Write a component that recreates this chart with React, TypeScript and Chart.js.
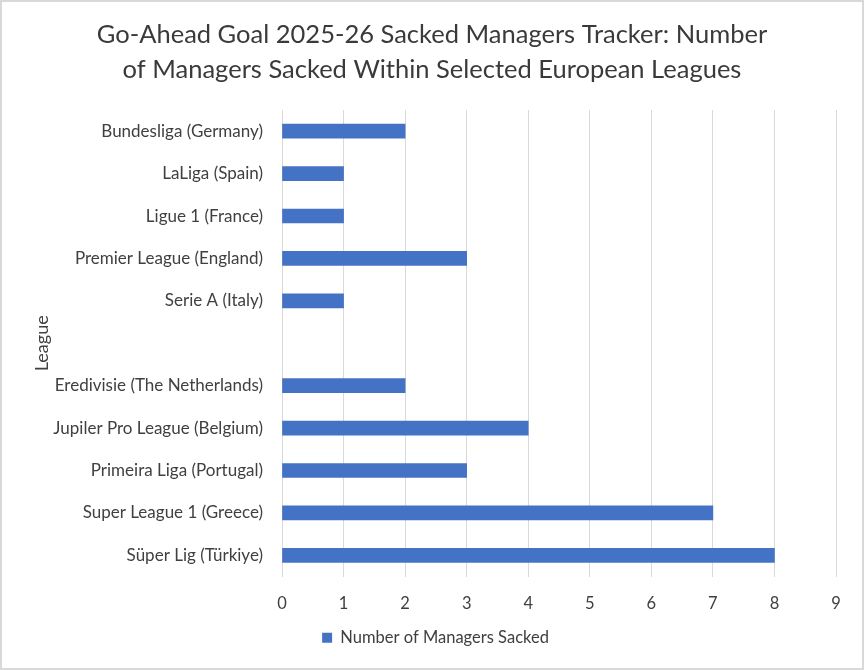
import { useRef, useEffect } from 'react'
import { Chart, registerables } from 'chart.js'

Chart.register(...registerables)

const leagues = [
  'Bundesliga (Germany)',
  'LaLiga (Spain)',
  'Ligue 1 (France)',
  'Premier League (England)',
  'Serie A (Italy)',
  '',
  'Eredivisie (The Netherlands)',
  'Jupiler Pro League (Belgium)',
  'Primeira Liga (Portugal)',
  'Super League 1 (Greece)',
  'Süper Lig (Türkiye)',
]
const sacked = [2, 1, 1, 3, 1, null, 2, 4, 3, 7, 8]
const titleLines = [
  'Go-Ahead Goal 2025-26 Sacked Managers Tracker: Number',
  'of Managers Sacked Within Selected European Leagues',
]
const seriesName = 'Number of Managers Sacked'
const xMax = 9

const FONT = 'Lato, Carlito, Calibri, sans-serif'
const TEXT = '#404040'
const GRID = '#d9d9d9'
const RIGHT_PAD = 26

// title and legend span the full width, not just up to the right padding
const centerBlocks = {
  id: 'centerBlocks',
  afterLayout(chart: any) {
    if (chart.titleBlock) chart.titleBlock.right += RIGHT_PAD
    if (chart.legend) {
      chart.legend.left += 3
      chart.legend.right += RIGHT_PAD + 4
    }
  }
}

export default function App() {
  const canvasRef = useRef<HTMLCanvasElement>(null)
  const chartRef = useRef<Chart | null>(null)

  useEffect(() => {
    document.body.style.margin = '0'
    if (!canvasRef.current) return
    if (chartRef.current) chartRef.current.destroy()

    chartRef.current = new Chart(canvasRef.current, {
      type: 'bar',
      data: {
        labels: leagues,
        datasets: [{
          label: seriesName,
          data: sacked,
          backgroundColor: '#4472c4',
          borderWidth: 0,
          barThickness: 14,
        }]
      },
      options: {
        indexAxis: 'y',
        responsive: false,
        animation: false,
        layout: { padding: { top: 0, right: RIGHT_PAD, bottom: 12, left: 0 } },
        plugins: {
          title: {
            display: true,
            text: titleLines,
            color: '#3a3a3a',
            font: { family: FONT, size: 25.5, weight: 'normal', lineHeight: 35 / 25.5 },
            padding: { top: 15.5, bottom: 22.5 },
          },
          legend: {
            position: 'bottom',
            labels: {
              color: TEXT,
              font: { family: FONT, size: 16.5 },
              boxWidth: 10,
              boxHeight: 10,
              padding: 9,
            }
          },
          tooltip: { enabled: false },
        },
        scales: {
          x: {
            min: 0,
            max: xMax,
            ticks: { stepSize: 1, color: TEXT, font: { family: FONT, size: 16.5 }, padding: 17 },
            grid: { color: GRID, drawTicks: false },
            border: { display: false },
            afterFit: (s: any) => { s.height = 44 },
          },
          y: {
            ticks: { color: TEXT, font: { family: FONT, size: 17 }, padding: 19, autoSkip: false },
            grid: { display: false, drawTicks: false },
            border: { display: false },
            title: {
              display: true,
              text: 'League',
              color: TEXT,
              font: { family: FONT, size: 18 },
              padding: { top: 29, bottom: 0 },
            },
            afterFit: (s: any) => { s.width = 280 },
          }
        }
      },
      plugins: [centerBlocks],
    })

    return () => { chartRef.current?.destroy() }
  }, [])

  return (
    <div style={{ width: 864, height: 670, boxSizing: 'border-box', border: `2px solid ${GRID}`, background: '#fff' }}>
      <canvas ref={canvasRef} width={860} height={666} />
    </div>
  )
}
